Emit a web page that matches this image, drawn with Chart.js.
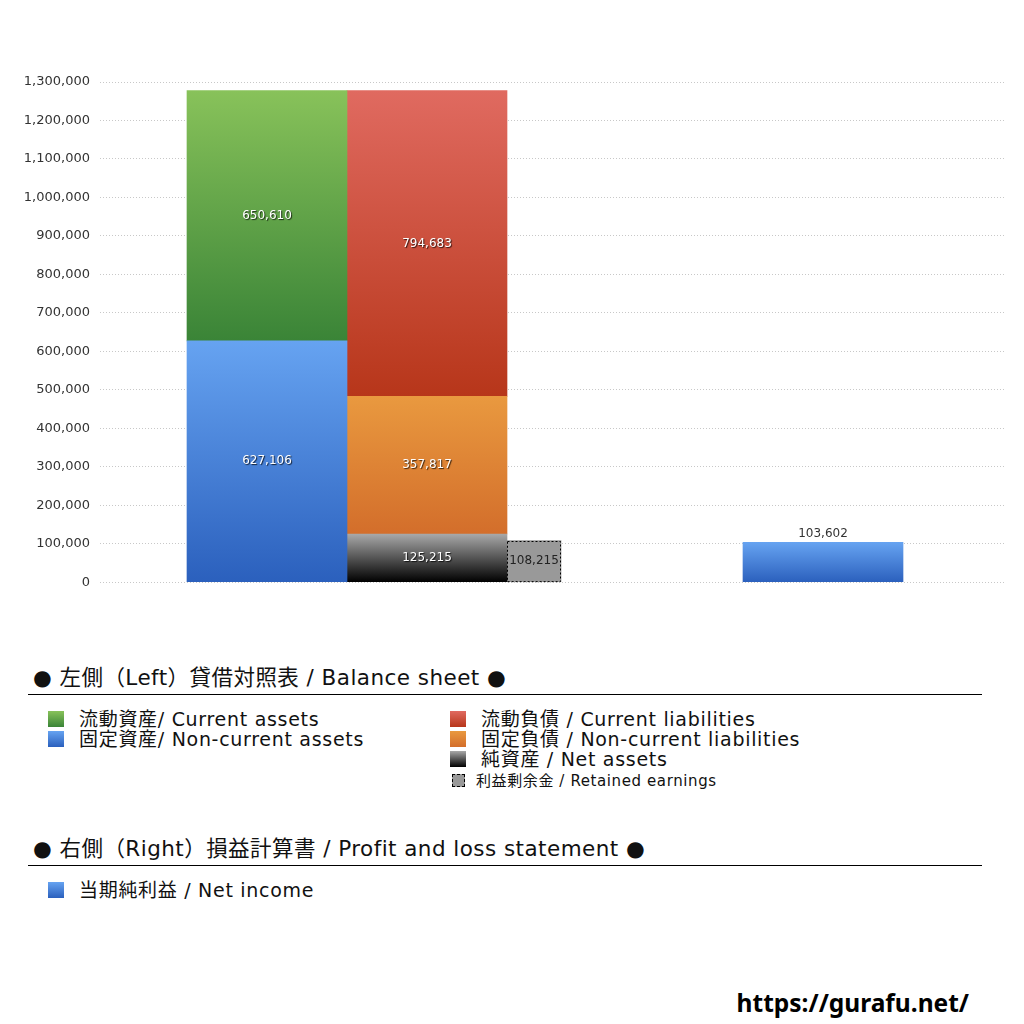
<!DOCTYPE html>
<html>
<head>
<meta charset="utf-8">
<script src="https://cdn.jsdelivr.net/npm/chart.js@4/dist/chart.umd.min.js"></script>
<style>
  html, body { margin: 0; padding: 0; background: #fff; }
  body { width: 1024px; height: 1024px; position: relative; overflow: hidden;
         font-family: "DejaVu Sans", "Noto Sans CJK JP", sans-serif; color: #111; }
  #chartBox { position: absolute; left: 0; top: 0; width: 1024px; height: 600px; }
  .section-title { position: absolute; left: 33px; font-size: 21.5px; line-height: 26px; letter-spacing: 0.45px; white-space: nowrap; }
  .rule { position: absolute; left: 28px; width: 954px; height: 0; border-top: 1px solid #000; }
  .item { position: absolute; font-size: 19px; line-height: 20px; letter-spacing: 0.7px; white-space: nowrap; }
  .item.small { font-size: 15px; letter-spacing: 0.6px; }
  .sw { position: absolute; width: 16px; height: 16px; }
  .footer { position: absolute; right: 55px; top: 986px; font-size: 24.5px; font-weight: bold;
            font-family: "Noto Sans", "DejaVu Sans", sans-serif; color: #000; }
</style>
</head>
<body>
<div id="chartBox"><canvas id="bsChart"></canvas></div>

<div class="section-title" style="top:665px">● 左側（Left）貸借対照表 / Balance sheet ●</div>
<div class="rule" style="top:694px"></div>
<div id="legendLeft"></div>

<div class="section-title" style="top:836px">● 右側（Right）損益計算書 / Profit and loss statement ●</div>
<div class="rule" style="top:865px"></div>
<div id="legendRight"></div>

<div class="footer">https://gurafu.net/</div>

<script>
// values (bottom segment first)
const assetNames = ["固定資産/ Non-current assets", "流動資産/ Current assets"];
const assetValues = [627106, 650610];
const liabilityNames = ["純資産 / Net assets", "固定負債 / Non-current liabilities", "流動負債 /  Current liabilities"];
const liabilityValues = [125215, 357817, 794683];
const retainedName = "利益剰余金 / Retained earnings";
const retainedValues = [108215];
const incomeName = "当期純利益 / Net income";
const incomeValues = [103602];

const yMax = 1300000;
const yStep = 100000;

// column centres on a hidden linear x axis (unit = one wide bar)
const columnCentres = [1.04375, 2.04375, 2.7125, 4.51875];
const xMax = 5.65625;

const grads = {
  assetsNonCurrent: ["#66a3f1", "#2b60bd"],
  assetsCurrent: ["#88c25a", "#3a8437"],
  netAssets: ["#a8a8a8", "#000000"],
  liabNonCurrent: ["#e9993f", "#d36e2b"],
  liabCurrent: ["#e06a60", "#b7361a"],
  income: ["#66a3f1", "#2b60bd"]
};

function fmt(v) { return v.toLocaleString("en-US"); }

function gradFill(colors, from, to) {
  return (ctx) => {
    const chart = ctx.chart;
    const y = chart.scales.y;
    if (!chart.chartArea || !y) return colors[1];
    const g = chart.ctx.createLinearGradient(0, y.getPixelForValue(to), 0, y.getPixelForValue(from));
    g.addColorStop(0, colors[0]);
    g.addColorStop(1, colors[1]);
    return g;
  };
}

function stackSets(names, values, colorList, x) {
  let base = 0;
  return values.map((v, i) => {
    const ds = {
      label: names[i],
      data: [{ x: x, y: v }],
      backgroundColor: gradFill(colorList[i], base, base + v),
      barThickness: 160
    };
    base += v;
    return ds;
  });
}

const datasets = [
  ...stackSets(assetNames, assetValues, [grads.assetsNonCurrent, grads.assetsCurrent], columnCentres[0]),
  ...stackSets(liabilityNames, liabilityValues, [grads.netAssets, grads.liabNonCurrent, grads.liabCurrent], columnCentres[1]),
  {
    label: retainedName,
    data: retainedValues.map(v => ({ x: columnCentres[2], y: v })),
    backgroundColor: "#999999",
    barThickness: 54,
    dashedBorder: true,
    labelDark: true
  },
  {
    label: incomeName,
    data: incomeValues.map(v => ({ x: columnCentres[3], y: v })),
    backgroundColor: gradFill(grads.income, 0, incomeValues[0]),
    barThickness: 160,
    labelAbove: true
  }
];

const barLabels = {
  id: "barLabels",
  afterDatasetsDraw(chart) {
    const c = chart.ctx;
    chart.data.datasets.forEach((ds, di) => {
      const meta = chart.getDatasetMeta(di);
      meta.data.forEach((el, i) => {
        const v = ds.data[i].y;
        const top = el.y, bot = el.base, half = el.width / 2;
        c.save();
        if (ds.dashedBorder) {
          c.strokeStyle = "#000";
          c.lineWidth = 1;
          c.setLineDash([2, 2]);
          c.strokeRect(Math.round(el.x - half) + 0.5, Math.round(top) + 0.5, el.width - 1, bot - top - 1);
          c.setLineDash([]);
        }
        c.font = "12px 'DejaVu Sans', sans-serif";
        c.textAlign = "center";
        c.textBaseline = "middle";
        if (ds.labelAbove) {
          c.fillStyle = "#333";
          c.fillText(fmt(v), el.x, top - 8);
        } else if (ds.labelDark) {
          c.fillStyle = "#222";
          c.fillText(fmt(v), el.x, (top + bot) / 2);
        } else {
          c.shadowColor = "rgba(0,0,0,0.75)";
          c.shadowOffsetX = 1;
          c.shadowOffsetY = 1;
          c.shadowBlur = 1;
          c.fillStyle = "#fff";
          c.fillText(fmt(v), el.x, (top + bot) / 2);
        }
        c.restore();
      });
    });
  }
};

new Chart(document.getElementById("bsChart"), {
  type: "bar",
  data: { datasets },
  options: {
    responsive: true,
    maintainAspectRatio: false,
    animation: false,
    layout: { padding: { top: 82, right: 19, bottom: 17, left: 0 } },
    plugins: { legend: { display: false }, tooltip: { enabled: false } },
    scales: {
      x: { type: "linear", min: 0, max: xMax, stacked: true, offset: false, display: false },
      y: {
        stacked: true,
        min: 0,
        max: yMax,
        afterFit(scale) { scale.width = 100; },
        ticks: {
          stepSize: yStep,
          padding: 10,
          color: "#333",
          font: { size: 13, family: "'DejaVu Sans', sans-serif" },
          callback: (v) => fmt(v)
        },
        grid: { color: "#c8c8c8", drawTicks: false, lineWidth: 1 },
        border: { display: false, dash: [1, 2] }
      }
    }
  },
  plugins: [barLabels]
});

// html legend
function addItem(parent, left, top, text, colors, small) {
  const sw = document.createElement("div");
  sw.className = "sw";
  if (colors === "dashed") {
    sw.style.cssText = "left:" + (left + 2) + "px;top:" + (top + 3) + "px;width:11px;height:11px;background:#999;border:1px dashed #000;";
  } else {
    sw.style.cssText = "left:" + left + "px;top:" + (top + 2) + "px;background:linear-gradient(" + colors[0] + "," + colors[1] + ");";
  }
  parent.appendChild(sw);
  const t = document.createElement("div");
  t.className = "item" + (small ? " small" : "");
  t.style.left = (left + (small ? 26 : 31)) + "px";
  t.style.top = top + "px";
  t.textContent = text;
  parent.appendChild(t);
}
const L = document.getElementById("legendLeft");
addItem(L, 48, 709, assetNames[1], grads.assetsCurrent);
addItem(L, 48, 729, assetNames[0], grads.assetsNonCurrent);
addItem(L, 450, 709, liabilityNames[2], grads.liabCurrent);
addItem(L, 450, 729, liabilityNames[1], grads.liabNonCurrent);
addItem(L, 450, 749, liabilityNames[0], grads.netAssets);
addItem(L, 450, 771, retainedName, "dashed", true);
const R = document.getElementById("legendRight");
addItem(R, 48, 880, incomeName, grads.income);
</script>
</body>
</html>
